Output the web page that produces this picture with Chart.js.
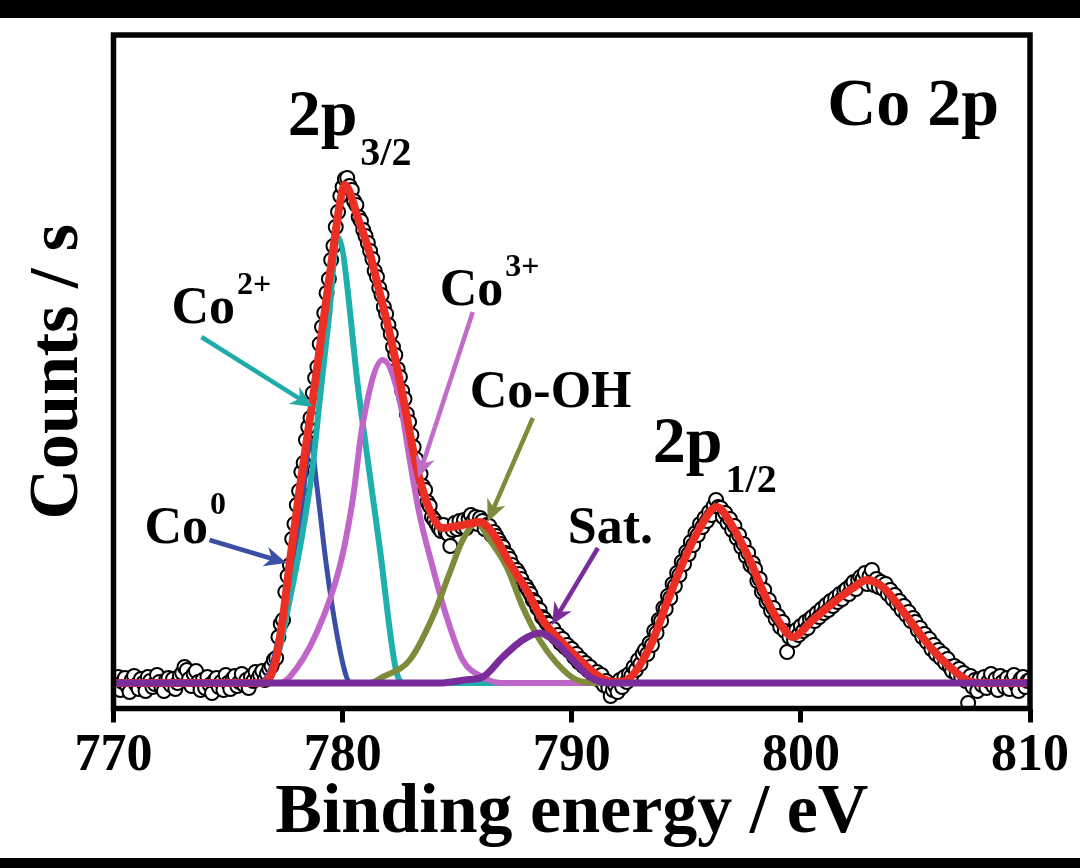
<!DOCTYPE html>
<html>
<head>
<meta charset="utf-8">
<script src="https://cdn.jsdelivr.net/npm/chart.js@4.4.1/dist/chart.umd.min.js"></script>
<style>
  html, body { margin: 0; padding: 0; background: #fff; }
  #wrap { position: relative; width: 1080px; height: 868px; overflow: hidden; background: #fff; }
  #wrap canvas { position: absolute; left: 0; top: 0; }
  .bar { position: absolute; left: 0; width: 1080px; background: #000; }
  #barTop { top: 0; height: 18px; }
  #barBottom { bottom: 0; height: 10px; }
</style>
</head>
<body>
<div id="wrap">
  <canvas id="chart" width="1080" height="868"></canvas>
  <div class="bar" id="barTop"></div>
  <div class="bar" id="barBottom"></div>
</div>
<script>
// measured spectrum, 0.1 eV steps from 770 eV
const scanStart = 770
const scanStep = 0.1
const measuredCounts = [
  0.4, -0.8, 1.2, -1.4, 0.2, 1.0, -0.6, -1.8, 0.6, 1.4,
  -0.4, -1.2, 0.8, 0.0, -1.6, 1.2, 0.4, -0.8, -0.2, 1.6,
  0.2, -1.0, -1.6, 0.6, 1.0, -0.4, 0.8, -1.2, 0.0, 1.4,
  2.0, 3.2, 2.6, 0.8, -0.6, 1.8, 2.4, 0.2, -1.4, 0.6,
  -1.0, 1.2, -0.4, -2.0, 0.4, 1.0, -0.8, 0.2, -1.4, 1.6,
  0.0, -1.2, 0.8, 1.4, -0.6, 0.2, 1.8, -0.4, 0.6, -1.0,
  1.2, 0.4, 2.2, 0.8, 1.6, 2.4, 0.6, 1.8, 2.8, 3.4,
  4.6, 5.0, 9.2, 11.8, 12.6, 18.2, 21.4, 23.6, 28.8, 31.8,
  35.6, 38.4, 42.2, 44.0, 48.6, 51.2, 53.0, 58.0, 61.0, 63.2,
  67.8, 71.2, 74.0, 78.0, 80.8, 84.6, 87.4, 91.2, 94.2, 97.4,
  99.2, 100.8, 101.0, 99.4, 98.6, 96.4, 95.6, 93.2, 92.4, 90.6,
  89.4, 88.0, 86.4, 84.8, 82.4, 81.2, 79.0, 77.6, 75.2, 73.8,
  71.6, 69.8, 67.2, 65.6, 62.8, 61.2, 58.4, 56.8, 53.8, 52.2,
  49.6, 47.2, 44.8, 42.6, 41.8, 39.4, 38.6, 36.2, 35.4, 33.2,
  32.6, 31.8, 31.0, 30.4, 31.6, 30.2, 29.8, 27.4, 30.6, 32.0,
  30.8, 32.4, 31.2, 32.6, 31.0, 32.8, 33.6, 32.4, 33.2, 31.8,
  33.0, 32.4, 30.8, 31.6, 31.4, 29.6, 30.2, 29.4, 28.6, 27.8,
  27.2, 26.0, 25.6, 24.8, 23.6, 22.4, 22.6, 21.8, 20.8, 19.6,
  19.4, 18.6, 17.8, 16.6, 16.2, 15.0, 14.6, 13.2, 12.8, 12.0,
  11.8, 10.2, 10.8, 9.2, 9.6, 8.0, 8.8, 7.2, 7.6, 6.4,
  6.8, 5.2, 5.8, 4.2, 4.8, 3.4, 4.0, 2.6, 3.2, 1.8,
  1.4, 2.2, 0.6, 1.6, -0.4, 0.4, -1.0, -2.6, -1.4, -0.6,
  -1.8, 0.6, -0.8, 1.2, 0.2, 1.8, 1.4, 3.2, 2.6, 4.6,
  3.8, 5.8, 6.6, 5.8, 8.0, 7.6, 10.4, 10.0, 12.6, 12.4,
  15.0, 14.8, 17.4, 17.0, 19.8, 19.4, 22.0, 21.6, 24.2, 23.8,
  26.2, 25.8, 28.2, 27.6, 30.0, 29.6, 31.8, 31.2, 33.0, 32.4,
  34.2, 33.6, 35.4, 36.6, 35.2, 35.0, 33.2, 34.0, 32.0, 32.8,
  30.6, 31.4, 29.0, 29.6, 27.2, 27.8, 25.4, 26.0, 23.6, 24.0,
  22.8, 20.4, 20.8, 18.2, 18.6, 16.2, 16.6, 14.4, 15.0, 12.8,
  13.4, 11.2, 12.2, 10.4, 6.2, 9.2, 10.2, 8.6, 10.6, 9.6,
  11.4, 10.4, 12.2, 11.0, 12.8, 13.2, 12.4, 14.0, 13.2, 14.8,
  14.0, 15.6, 14.6, 16.4, 15.4, 17.0, 16.2, 17.8, 16.8, 18.4,
  18.8, 17.8, 19.6, 20.2, 18.8, 20.6, 21.2, 20.8, 22.0, 19.8,
  21.4, 22.6, 19.6, 20.8, 19.2, 20.2, 18.8, 19.8, 17.8, 18.6,
  16.8, 17.6, 15.8, 16.4, 14.6, 15.4, 13.6, 14.2, 12.4, 13.0,
  12.2, 10.6, 11.0, 9.2, 9.8, 8.2, 8.8, 6.8, 7.6, 5.8,
  6.6, 5.0, 5.8, 4.0, 4.8, 3.2, 2.4, 3.4, 1.8, 2.8,
  1.2, 2.0, 0.4, -4.0, 1.4, -0.8, 0.6, -1.6, 0.8, -0.4,
  1.2, -1.0, 0.4, 1.8, -0.6, 0.8, -1.4, 1.4, 0.2, -0.8,
  1.0, -1.2, 0.6, 1.6, -0.4, -1.6, 0.8, 1.2, -0.8, 0.4,
  0.6
]

// fitted envelope
const fitEnergy = [770, 776.5, 777.03, 777.38, 777.69, 778.12, 778.65, 779.08, 779.56, 779.87, 780.09,
  780.74, 781.18, 781.62, 782.05, 782.66, 783.23, 783.8, 784.37, 785.24, 785.98, 786.55, 787.29,
  788.03, 788.73, 789.48, 790.35, 791.22, 791.88, 792.4, 793.41, 794.15, 794.85, 795.59, 796.33,
  797.03, 797.77, 798.52, 799.08, 799.65, 800.52, 801.4, 802.27, 802.88, 803.58, 804.32, 805.07,
  805.76, 806.51, 807.25, 807.95, 810]
const fitCounts = [0, 0, 3.6, 12.6, 24, 38.6, 55.2, 69.6, 85.6, 95.6, 99.6,
  92, 86, 78, 70, 56.6, 43.2, 34.6, 31, 31.6, 32.2, 30, 24,
  18.6, 12.6, 8.6, 4.6, 1.2, 0.2, 0.6, 7.2, 16, 24, 31, 35.2,
  31.2, 24.6, 16.6, 12, 9.2, 12.6, 16, 19, 20.6, 19.2, 15.2, 10.6,
  6.6, 3.2, 0.6, 0, 0]

// deconvoluted components
const co0Energy = [770, 776.29, 776.81, 777.25, 777.82, 778.25, 778.6, 778.86, 779.3, 779.74, 780.17, 780.39, 810]
const co0Counts = [0, 0, 2.2, 10, 23.2, 36.6, 48.6, 40, 23.2, 10, 1.2, 0, 0]

const co2Energy = [770, 776.46, 777.12, 777.69, 778.25, 778.69, 779.0, 779.39, 779.78, 780.74, 781.62, 782.36, 782.71, 810]
const co2Counts = [0, 0, 4.6, 16.6, 30, 43.2, 56.6, 72.6, 89.2, 56.6, 27, 2, 0, 0]

const co3Energy = [770, 777.25, 777.69, 778.86, 779.87, 780.44, 780.87, 781.75, 782.49, 782.93, 783.36, 783.93, 784.54, 785.24, 786.11, 786.99, 810]
const co3Counts = [0, 0, 1.2, 10, 23.2, 36.6, 51.6, 64.6, 56.6, 44.6, 33.6, 23.2, 13.2, 4.6, 1.2, 0, 0]

const cooHEnergy = [770, 781.18, 781.75, 782.93, 783.93, 784.67, 785.24, 785.85, 786.42, 787.16, 787.86, 788.6, 789.34, 790.22, 791.22, 810]
const cooHCounts = [0, 0, 1.2, 4.6, 13.2, 22, 28.6, 32, 28.6, 23.2, 15.2, 8.6, 4, 0.6, 0, 0]

const satEnergy = [770, 784.24, 785.33, 786.11, 786.99, 787.86, 788.6, 789.34, 790.04, 790.79, 791.66, 810]
const satCounts = [0, 0, 0.6, 1.2, 5.2, 8.6, 10, 8, 4.6, 1.2, 0, 0]

const xTicks = [770, 780, 790, 800, 810]

const serif = '"Liberation Serif", "Times New Roman", serif'

const pairs = (xs, ys) => xs.map((x, i) => ({ x, y: ys[i] }))
const measured = measuredCounts.map((y, i) => ({ x: +(scanStart + i * scanStep).toFixed(1), y }))

const componentLine = (data, color, width, order) => ({
  data,
  showLine: true,
  borderColor: color,
  borderWidth: width,
  pointRadius: 0,
  cubicInterpolationMode: 'monotone',
  order
})

// text labels and arrows, anchored in data units
const notes = [
  { text: 'Co', sup: '2+', at: [772.53, 72], size: 52 },
  { text: 'Co', sup: '0', at: [771.35, 28], size: 52 },
  { text: 'Co', sup: '3+', at: [784.24, 75.6], size: 52 },
  { text: 'Co-OH', at: [785.55, 55.2], size: 52 },
  { text: 'Sat.', at: [789.83, 28], size: 52 },
  { text: '2p', sub: '3/2', at: [777.6, 109.6], size: 66 },
  { text: '2p', sub: '1/2', at: [793.54, 44.2], size: 66 },
  { text: 'Co 2p', at: [801.15, 111.6], size: 68 }
]

const arrows = [
  { from: [773.84, 69.2], to: [778.69, 55.2], color: '#20aaa8' },
  { from: [774.19, 28.6], to: [777.55, 24], color: '#3a4ea6' },
  { from: [785.68, 74.2], to: [783.3, 41], color: '#c06cc9' },
  { from: [788.3, 53], to: [786.33, 32.2], color: '#7f8a3a' },
  { from: [791.14, 27], to: [789.13, 11.6], color: '#7a2d9a' }
]

function drawArrow(ctx, x1, y1, x2, y2, color) {
  const ang = Math.atan2(y2 - y1, x2 - x1)
  const headLen = 22
  const headW = 10
  ctx.save()
  ctx.strokeStyle = color
  ctx.fillStyle = color
  ctx.lineWidth = 4.5
  ctx.beginPath()
  ctx.moveTo(x1, y1)
  ctx.lineTo(x2 - Math.cos(ang) * headLen * 0.6, y2 - Math.sin(ang) * headLen * 0.6)
  ctx.stroke()
  ctx.translate(x2, y2)
  ctx.rotate(ang)
  ctx.beginPath()
  ctx.moveTo(0, 0)
  ctx.lineTo(-headLen, -headW)
  ctx.lineTo(-headLen * 0.7, 0)
  ctx.lineTo(-headLen, headW)
  ctx.closePath()
  ctx.fill()
  ctx.restore()
}

const framePlugin = {
  id: 'frame',
  afterDatasetsDraw(chart) {
    const { ctx, chartArea: a, scales } = chart
    ctx.save()
    ctx.strokeStyle = '#000'
    ctx.lineWidth = 5.5
    ctx.lineJoin = 'miter'
    ctx.strokeRect(a.left, a.top, a.right - a.left, a.bottom - a.top)
    ctx.restore()

    arrows.forEach(ar => {
      drawArrow(ctx,
        scales.x.getPixelForValue(ar.from[0]), scales.y.getPixelForValue(ar.from[1]),
        scales.x.getPixelForValue(ar.to[0]), scales.y.getPixelForValue(ar.to[1]),
        ar.color)
    })

    ctx.save()
    ctx.fillStyle = '#000'
    ctx.textBaseline = 'alphabetic'
    ctx.textAlign = 'left'
    notes.forEach(n => {
      const px = scales.x.getPixelForValue(n.at[0])
      const py = scales.y.getPixelForValue(n.at[1])
      ctx.font = `bold ${n.size}px ${serif}`
      ctx.fillText(n.text, px, py)
      const w = ctx.measureText(n.text).width
      if (n.sup) {
        ctx.font = `bold 32px ${serif}`
        ctx.fillText(n.sup, px + w + 2, py - 29)
      }
      if (n.sub) {
        ctx.font = `bold 40px ${serif}`
        ctx.fillText(n.sub, px + w + 3, py + 30)
      }
    })
    ctx.restore()
  }
}

Chart.defaults.color = '#000'

new Chart(document.getElementById('chart'), {
  type: 'scatter',
  data: {
    datasets: [
      componentLine(pairs(satEnergy, satCounts), '#7a2d9a', 7, 0),
      componentLine(pairs(fitEnergy, fitCounts), '#ec2f25', 8, 1),
      componentLine(pairs(cooHEnergy, cooHCounts), '#7f8a3a', 6, 2),
      componentLine(pairs(co3Energy, co3Counts), '#bf66c8', 6, 3),
      componentLine(pairs(co2Energy, co2Counts), '#1fb0ad', 6, 4),
      componentLine(pairs(co0Energy, co0Counts), '#3a4ea6', 5, 5),
      {
        data: measured,
        showLine: false,
        pointStyle: 'circle',
        pointRadius: 7,
        pointBorderWidth: 2,
        pointBorderColor: '#000',
        pointBackgroundColor: '#fff',
        order: 10
      }
    ]
  },
  options: {
    responsive: false,
    animation: false,
    events: [],
    layout: { padding: { left: 0, right: 50, top: 35, bottom: 0 } },
    plugins: { legend: { display: false }, tooltip: { enabled: false } },
    scales: {
      x: {
        type: 'linear',
        min: 770,
        max: 810,
        afterFit: scale => { scale.height = 159.5 },
        afterBuildTicks: scale => { scale.ticks = xTicks.map(v => ({ value: v })) },
        grid: { drawOnChartArea: false, drawTicks: true, tickLength: 14, lineWidth: 5, color: '#000' },
        border: { display: false },
        ticks: {
          padding: 3,
          maxRotation: 0,
          font: { family: serif, size: 52, weight: 'bold', lineHeight: 1.2 }
        },
        title: {
          display: true,
          text: 'Binding energy / eV',
          padding: { top: 0, bottom: 19 },
          font: { family: serif, size: 70, weight: 'bold', lineHeight: 1 }
        }
      },
      y: {
        type: 'linear',
        min: -5.1,
        max: 129.6,
        afterFit: scale => { scale.width = 113.5 },
        grid: { display: false },
        border: { display: false },
        ticks: { display: false },
        title: {
          display: true,
          text: 'Counts / s',
          padding: { top: 24, bottom: 0 },
          font: { family: serif, size: 70, weight: 'bold', lineHeight: 1 }
        }
      }
    }
  },
  plugins: [framePlugin]
})
</script>
</body>
</html>
